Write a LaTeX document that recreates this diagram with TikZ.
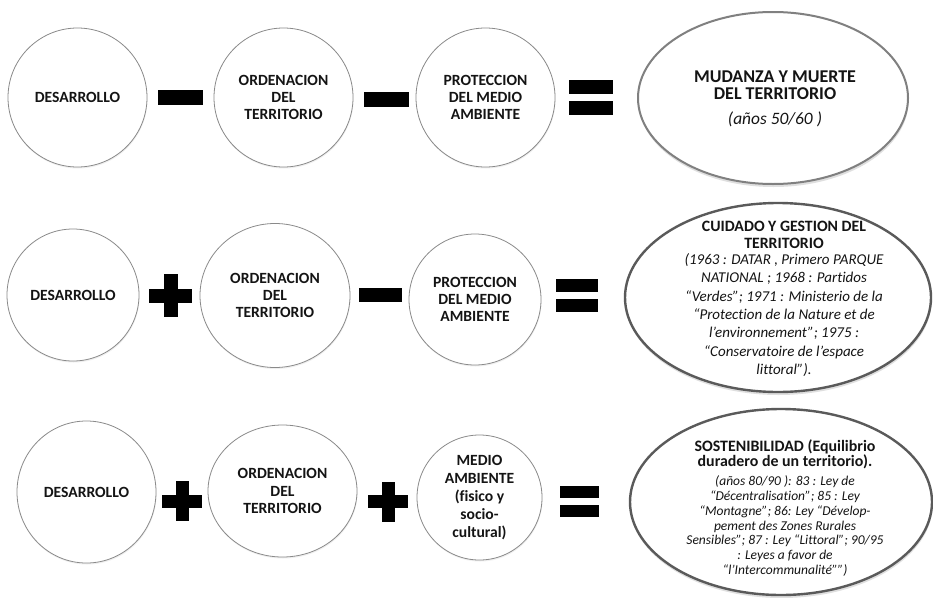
\documentclass[tikz,border=0pt]{standalone}
\usepackage{fontspec}
\setmainfont{Carlito}[Ligatures={NoCommon}]
\usetikzlibrary{shapes.geometric,shadows}
\definecolor{circgray}{HTML}{8A8A8A}
\definecolor{ellgray}{HTML}{808080}
\definecolor{elldark}{HTML}{5A5A5A}
\definecolor{txt}{HTML}{141414}
\newcommand\plussign[4]{%
  \fill (#1-#3,#2-#4) rectangle (#1+#3,#2+#4);
  \fill (#1-#4,#2-#3) rectangle (#1+#4,#2+#3);}
\begin{document}
\begin{tikzpicture}[x=1pt,y=-1pt,
  term/.style={ellipse, draw=circgray, line width=0.8pt, fill=white, inner sep=0pt,
    align=center, text=txt, font=\fontsize{15.6}{17.3}\selectfont\bfseries,
    drop shadow={opacity=0.12, shadow xshift=0.5pt, shadow yshift=-1.5pt}},
  result/.style={ellipse, draw=elldark, line width=2.4pt, fill=white, inner sep=0pt,
    drop shadow={opacity=0.25, shadow xshift=0.5pt, shadow yshift=-3pt}},
  restitle/.style={align=center, inner sep=0pt, text=txt, font=\fontsize{15.8}{17.2}\selectfont\bfseries},
  resbody/.style={align=center, inner sep=0pt, text=txt, font=\fontsize{15}{18.3}\selectfont\itshape},
  bar/.style={rectangle, fill=black, inner sep=0pt}
]
\fill[white] (0,0) rectangle (933,597);
\useasboundingbox (0,0) rectangle (933,597);

% ---------- Row 1 ----------
\node[term, minimum width=139, minimum height=139] (r1a) at (77.5,97.5) {DESARROLLO};
\node[bar, minimum width=45, minimum height=15] (r1m1) at (180.5,97.5) {};
\node[term, minimum width=139, minimum height=139] (r1b) at (283.5,97.5) {ORDENACION\\DEL\\TERRITORIO};
\node[bar, minimum width=45, minimum height=15] (r1m2) at (386.5,99.5) {};
\node[term, minimum width=139, minimum height=139] (r1c) at (485.5,97.5) {PROTECCION\\DEL MEDIO\\AMBIENTE};
\node[bar, minimum width=44, minimum height=14] (r1e1) at (591,87) {};
\node[bar, minimum width=44, minimum height=14] (r1e2) at (591,108) {};
\node[result, draw=ellgray, line width=2pt, minimum width=270, minimum height=172] (r1res) at (773,98) {};
\node[restitle, font=\fontsize{18}{16.7}\selectfont\bfseries] (r1title) at (775,85) {MUDANZA Y MUERTE\\DEL TERRITORIO};
\node[resbody, font=\fontsize{17.4}{18}\selectfont\itshape] (r1body) at (775,119) {(años 50/60 )};

% ---------- Row 2 ----------
\node[term, minimum width=132, minimum height=132] (r2a) at (73,295) {DESARROLLO};
\plussign{170.5}{295.5}{21.5}{7}
\node[term, minimum width=150, minimum height=144] (r2b) at (275,295.5) {ORDENACION\\DEL\\TERRITORIO};
\node[bar, minimum width=43, minimum height=14] (r2m1) at (380.5,295) {};
\node[term, minimum width=132, minimum height=131] (r2c) at (475,299.5) {PROTECCION\\DEL MEDIO\\AMBIENTE};
\node[bar, minimum width=42, minimum height=13] (r2e1) at (577,285.5) {};
\node[bar, minimum width=42, minimum height=13] (r2e2) at (577,305.5) {};
\node[result, minimum width=306, minimum height=189] (r2res) at (778,297.5) {};
\node[restitle] (r2title) at (784,234.5) {CUIDADO Y GESTION DEL\\TERRITORIO};
\node[resbody] (r2body) at (784,315) {(1963 : DATAR , Primero PARQUE\\
NATIONAL ; 1968 : Partidos\\
“Verdes”; 1971 : Ministerio de la\\
“Protection de la Nature et de\\
l’environnement”; 1975 :\\
“Conservatoire de l’espace\\
littoral”).};

% ---------- Row 3 ----------
\node[term, minimum width=139, minimum height=142] (r3a) at (86.5,492) {DESARROLLO};
\plussign{182}{501}{20}{6.5}
\node[term, minimum width=149, minimum height=132] (r3b) at (282.5,491) {ORDENACION\\DEL\\TERRITORIO};
\plussign{388}{501.5}{20}{6.5}
\node[term, minimum width=125, minimum height=125, font=\fontsize{15.6}{17.9}\selectfont\bfseries] (r3c) at (479.5,497.5) {MEDIO\\AMBIENTE\\(fisico y\\socio-\\cultural)};
\node[bar, minimum width=39, minimum height=12] (r3e1) at (579.5,492) {};
\node[bar, minimum width=39, minimum height=12] (r3e2) at (579.5,511) {};
\node[result, minimum width=302, minimum height=186] (r3res) at (781,502) {};
\node[restitle, font=\fontsize{15.9}{15}\selectfont\bfseries] (r3title) at (785,454.5) {SOSTENIBILIDAD (Equilibrio\\duradero de un territorio).};
\node[resbody, font=\fontsize{13.5}{14.7}\selectfont\itshape] (r3body) at (785,526) {(años 80/90 ): 83 : Ley de\\
“Décentralisation”; 85 : Ley\\
“Montagne”; 86: Ley “Dévelop-\\
pement des Zones Rurales\\
Sensibles”; 87 : Ley “Littoral”; 90/95\\
: Leyes a favor de\\
“l’Intercommunalité””)};
\end{tikzpicture}
\end{document}
